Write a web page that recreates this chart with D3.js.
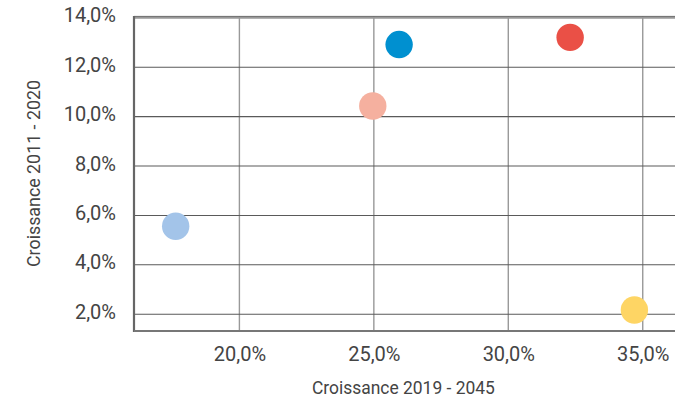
<!DOCTYPE html>
<html>
<head>
<meta charset="utf-8">
<script src="https://cdn.jsdelivr.net/npm/d3@7"></script>
<style>
  html, body { margin: 0; padding: 0; background: #fff; }
  svg { display: block; }
  text { font-family: "Roboto", "Liberation Sans", sans-serif; fill: #444; }
</style>
</head>
<body>
<svg id="chart" width="675" height="399"></svg>
<script>
// Growth 2019-2045 (x) vs growth 2011-2020 (y), in percent
const growth2019_2045 = [17.63, 25.94, 32.30, 24.96, 34.69];
const growth2011_2020 = [5.56, 12.92, 13.21, 10.43, 2.17];
const dotColors = ["#a3c4e9", "#0090d0", "#ea5046", "#f5b09f", "#fed564"];
const xTicks = [20, 25, 30, 35];
const yTicks = [2, 4, 6, 8, 10, 12, 14];
const xTitle = "Croissance 2019 - 2045";
const yTitle = "Croissance 2011 - 2020";

const svg = d3.select("#chart");
const plot = { left: 134, right: 675, top: 17.9, bottom: 331 };

const x = d3.scaleLinear().domain([16.08, 36.2]).range([plot.left, plot.right]);
const y = d3.scaleLinear().domain([1.32, 14]).range([plot.bottom, plot.top]);

const fmt = v => d3.format(".1f")(v).replace(".", ",") + "%";

// vertical grid
svg.append("g")
  .selectAll("line").data(xTicks).join("line")
  .attr("x1", d => x(d)).attr("x2", d => x(d))
  .attr("y1", plot.top - 1.5).attr("y2", plot.bottom)
  .attr("stroke", "#999").attr("stroke-width", 1.4);

// horizontal grid
svg.append("g")
  .selectAll("line").data(yTicks).join("line")
  .attr("x1", plot.left).attr("x2", plot.right)
  .attr("y1", d => y(d)).attr("y2", d => y(d))
  .attr("stroke", d => d === 14 ? "#999" : "#5a5a5a")
  .attr("stroke-width", d => d === 14 ? 1.6 : 1.1);

// frame: top edge, left axis, bottom axis
svg.append("line")
  .attr("x1", plot.left).attr("x2", plot.right)
  .attr("y1", plot.top - 1.5).attr("y2", plot.top - 1.5)
  .attr("stroke", "#666").attr("stroke-width", 1);
svg.append("line")
  .attr("x1", plot.left).attr("x2", plot.left)
  .attr("y1", plot.top - 2).attr("y2", plot.bottom + 1)
  .attr("stroke", "#666").attr("stroke-width", 2.2);
svg.append("line")
  .attr("x1", plot.left).attr("x2", plot.right)
  .attr("y1", plot.bottom).attr("y2", plot.bottom)
  .attr("stroke", "#777").attr("stroke-width", 1.8);

// tick labels via d3 axes (domain and tick marks hidden)
const xAxis = svg.append("g")
  .attr("transform", `translate(0,${plot.bottom})`)
  .call(d3.axisBottom(x).tickValues(xTicks).tickFormat(fmt).tickSize(0).tickPadding(16));
xAxis.select(".domain").remove();
xAxis.selectAll("text").attr("font-size", 20).attr("font-family", null).attr("fill", "#444");

const yAxis = svg.append("g")
  .attr("transform", `translate(${plot.left},0)`)
  .call(d3.axisLeft(y).tickValues(yTicks).tickFormat(fmt).tickSize(0).tickPadding(18));
yAxis.select(".domain").remove();
yAxis.selectAll("text").attr("font-size", 20).attr("font-family", null).attr("fill", "#444")
  .attr("dy", "0.2em");

// dots
const points = growth2019_2045.map((v, i) => ({ gx: v, gy: growth2011_2020[i], c: dotColors[i] }));
svg.append("g")
  .selectAll("circle").data(points).join("circle")
  .attr("cx", d => x(d.gx)).attr("cy", d => y(d.gy))
  .attr("r", 13.7)
  .attr("fill", d => d.c);

// axis titles
svg.append("text")
  .attr("x", 403.4).attr("y", 394)
  .attr("text-anchor", "middle")
  .attr("font-size", 19)
  .attr("textLength", 183)
  .attr("lengthAdjust", "spacingAndGlyphs")
  .text(xTitle);

svg.append("text")
  .attr("transform", "translate(40,173.5) rotate(-90)")
  .attr("text-anchor", "middle")
  .attr("font-size", 19)
  .attr("textLength", 187)
  .attr("lengthAdjust", "spacingAndGlyphs")
  .text(yTitle);
</script>
</body>
</html>
